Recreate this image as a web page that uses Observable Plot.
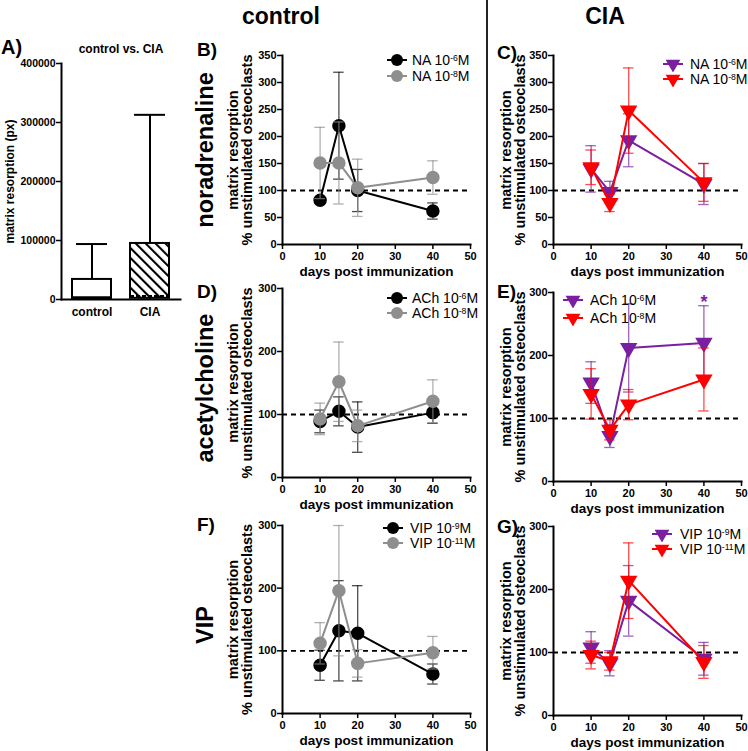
<!DOCTYPE html>
<html><head><meta charset="utf-8">
<script src="https://cdn.jsdelivr.net/npm/d3@7"></script>
<script src="https://cdn.jsdelivr.net/npm/@observablehq/plot@0.6"></script>
<style>
body{margin:0;background:#fff;}
#root{position:relative;width:748px;height:751px;overflow:hidden;background:#fff;font-family:"Liberation Sans",Arial,Helvetica,sans-serif;color:#000;}
#root svg{position:absolute;}
.t{position:absolute;white-space:nowrap;line-height:1;}
.b{font-weight:bold;}
sup{font-size:0.62em;vertical-align:baseline;position:relative;top:-0.5em;}
</style></head><body><div id="root"></div>
<script>
// ---------- data ----------
const days = [10, 15, 20, 40];
const xTicks = [0, 10, 20, 30, 40, 50];
const yTicks350 = [0, 50, 100, 150, 200, 250, 300, 350];
const yTicks300 = [0, 100, 200, 300];

// Panel A (box & whiskers, min to max)
const groupsA = ["control", "CIA"];
const minA = [0, 0];
const q1A = [1000, 2000];
const medianA = [4000, 6000];
const q3A = [34000, 95000];
const maxA = [94000, 313000];
const yTicksA = [0, 100000, 200000, 300000, 400000];

// Panel B: control, noradrenaline
const naCtrl6 = [82, 220, 100, 62];     const naCtrl6Sem = [5, 99, 39, 15];
const naCtrl8 = [151, 151, 105, 124];   const naCtrl8Sem = [66, 76, 53, 31];
// Panel C: CIA, noradrenaline
const naCia6 = [140, 97, 193, 112];     const naCia6Sem = [43, 20, 49, 38];
const naCia8 = [143, 77, 248, 115];     const naCia8Sem = [32, 16, 79, 35];
// Panel D: control, acetylcholine
const achCtrl6 = [89, 105, 80, 103];    const achCtrl6Sem = [18, 23, 40, 17];
const achCtrl8 = [93, 152, 82, 121];    const achCtrl8Sem = [25, 63, 25, 34];
// Panel E: CIA, acetylcholine
const achCia6 = [157, 72, 212, 220];    const achCia6Sem = [33, 18, 70, 59];
const achCia8 = [139, 82, 122, 162];    const achCia8Sem = [40, 16, 24, 50];
const starsE = [{day: 40, y: 292, label: "*"}];
// Panel F: control, VIP
const vipCtrl9 = [77, 132, 128, 63];    const vipCtrl9Sem = [24, 80, 76, 16];
const vipCtrl11 = [112, 196, 80, 97];   const vipCtrl11Sem = [33, 104, 22, 26];
// Panel G: CIA, VIP
const vipCia9 = [108, 83, 182, 90];     const vipCia9Sem = [25, 20, 56, 26];
const vipCia11 = [96, 86, 214, 85];     const vipCia11Sem = [22, 14, 60, 26];

// ---------- styling ----------
const FONT = '"Liberation Sans", Arial, Helvetica, sans-serif';
const BLACK = "#000000", GREY = "#8e8e8e", PURPLE = "#7a1fa2", RED = "#ff0000";
const root = document.getElementById("root");
const baseStyle = {fontFamily: FONT, color: "black", background: "transparent", overflow: "visible"};

function put(el, left, top) {
  el.style.position = "absolute";
  el.style.left = left + "px";
  el.style.top = top + "px";
  root.appendChild(el);
  return el;
}
function textDiv(html, cls, css) {
  const d = document.createElement("div");
  d.className = "t " + cls;
  d.innerHTML = html;
  Object.assign(d.style, css);
  root.appendChild(d);
  return d;
}

// ---------- panel A ----------
(function () {
  const dataA = groupsA.map((g, i) => ({g, min: minA[i], q1: q1A[i], med: medianA[i], q3: q3A[i], max: maxA[i]}));
  const ctrl = dataA.filter(d => d.g === "control");
  const cia = dataA.filter(d => d.g === "CIA");
  const svg = Plot.plot({
    width: 190, height: 300,
    marginLeft: 61, marginRight: 10, marginTop: 33, marginBottom: 31,
    style: baseStyle,
    x: {domain: groupsA, paddingInner: 0.32, paddingOuter: 0.17},
    y: {domain: [0, 400000]},
    marks: [
      Plot.ruleX(dataA, {x: "g", y1: "q3", y2: "max", stroke: BLACK, strokeWidth: 2}),
      Plot.ruleX(dataA, {x: "g", y1: "min", y2: "q1", stroke: BLACK, strokeWidth: 2}),
      Plot.tickY(dataA, {x: "g", y: "max", stroke: BLACK, strokeWidth: 2, inset: 4}),
      Plot.barY(ctrl, {x: "g", y1: "q1", y2: "q3", fill: "white", stroke: BLACK, strokeWidth: 2}),
      Plot.barY(cia, {x: "g", y1: "q1", y2: "q3", fill: "url(#hatchA)", stroke: BLACK, strokeWidth: 2}),
      Plot.tickY(ctrl, {x: "g", y: "med", stroke: BLACK, strokeWidth: 2}),
      Plot.tickY(cia, {x: "g", y: "med", stroke: BLACK, strokeWidth: 2, strokeDasharray: "4,2"}),
      Plot.frame({anchor: "left", stroke: BLACK, strokeWidth: 2}),
      Plot.frame({anchor: "bottom", stroke: BLACK, strokeWidth: 2}),
      Plot.axisY({ticks: yTicksA, tickFormat: d => String(d), tickSize: 5, tickPadding: 1, strokeWidth: 1.5,
                  fontSize: 10.5, fontWeight: "bold", label: null}),
      Plot.axisX({tickSize: 0, tickPadding: 8, fontSize: 12, fontWeight: "bold", label: null}),
      Plot.text(["control vs. CIA"], {frameAnchor: "top", dy: -14, fontSize: 12, fontWeight: "bold",
        textAnchor: "middle", lineAnchor: "middle"}),
      Plot.text(["matrix resorption (px)"], {frameAnchor: "left", rotate: -90, dx: -51, fontSize: 12, fontWeight: "bold",
        textAnchor: "middle", lineAnchor: "middle"})
    ]
  });
  const defs = d3.select(svg).insert("defs", ":first-child");
  const pat = defs.append("pattern").attr("id", "hatchA").attr("patternUnits", "userSpaceOnUse")
    .attr("width", 7).attr("height", 7).attr("patternTransform", "rotate(-45)");
  pat.append("rect").attr("width", 7).attr("height", 7).attr("fill", "white");
  pat.append("line").attr("x1", 1).attr("y1", 0).attr("x2", 1).attr("y2", 7).attr("stroke", "black").attr("stroke-width", 2.2);
  put(svg, 0, 30);
  textDiv("A)", "b", {left: "1px", top: "37px", fontSize: "20px"});
})();

// ---------- line panels ----------
function linePanel(cfg) {
  const marks = [Plot.ruleY([100], {stroke: BLACK, strokeWidth: 1.8, strokeDasharray: "5,4"})];
  cfg.series.forEach(s => {
    const data = days.map((d, i) => ({day: d, v: s.values[i], e: s.sem[i]}));
    const eb = {stroke: s.color, strokeOpacity: 0.7, strokeWidth: 1.3};
    marks.push(Plot.ruleX(data, {x: "day", y1: d => d.v - d.e, y2: d => d.v + d.e, ...eb}));
    marks.push(Plot.ruleY(data, {y: d => d.v + d.e, x1: d => d.day - 1.4, x2: d => d.day + 1.4, ...eb}));
    marks.push(Plot.ruleY(data, {y: d => d.v - d.e, x1: d => d.day - 1.4, x2: d => d.day + 1.4, ...eb}));
    marks.push(Plot.line(data, {x: "day", y: "v", stroke: s.color, strokeWidth: 2}));
    marks.push(Plot.dot(data, {x: "day", y: "v", fill: s.color, stroke: s.color,
      r: s.symbol === "circle" ? 6 : 5.5, symbol: s.symbol, rotate: s.symbol === "triangle" ? 180 : 0}));
  });
  if (cfg.stars) marks.push(Plot.text(cfg.stars, {x: "day", y: "y", text: "label", fill: cfg.starColor,
    fontSize: 18, fontWeight: "bold", dy: 5}));
  marks.push(
    Plot.frame({anchor: "left", stroke: BLACK, strokeWidth: 2}),
    Plot.frame({anchor: "bottom", stroke: BLACK, strokeWidth: 2}),
    Plot.axisY({ticks: cfg.yTicks, tickSize: 5, tickPadding: 1, strokeWidth: 1.5, fontSize: 11, fontWeight: "bold", label: null}),
    Plot.axisX({ticks: xTicks, tickSize: 5, tickPadding: 3, strokeWidth: 1.5, fontSize: 11, fontWeight: "bold", label: null}),
    Plot.text(["matrix resorption\n% unstimulated osteoclasts"], {frameAnchor: "left", rotate: -90, dx: cfg.ylabelDx,
      fontSize: 14.5, fontWeight: "bold", lineHeight: 0.98, textAnchor: "middle", lineAnchor: "middle"}),
    Plot.text(["days post immunization"], {frameAnchor: "bottom", dy: 27, fontSize: 13.5, fontWeight: "bold",
      textAnchor: "middle", lineAnchor: "middle"})
  );
  const svg = Plot.plot({
    width: cfg.width, height: cfg.height,
    marginLeft: cfg.ml, marginRight: cfg.mr, marginTop: cfg.mt, marginBottom: cfg.mb,
    style: baseStyle,
    x: {domain: [0, 50]},
    y: {domain: [0, cfg.yMax]},
    marks
  });
  put(svg, cfg.left, cfg.top);
  textDiv(cfg.letter, "b", {left: cfg.letterX + "px", top: cfg.letterY + "px", fontSize: "19px"});
  // legend
  cfg.series.forEach((s, i) => {
    const y = cfg.legendY[i];
    const sw = d3.create("svg").attr("width", 26).attr("height", 16)
      .style("left", (cfg.legendMarkerX - 13) + "px").style("top", (y - 8) + "px");
    sw.append("line").attr("x1", 3).attr("x2", 23).attr("y1", 8).attr("y2", 8).attr("stroke", s.color).attr("stroke-width", 2);
    if (s.symbol === "circle") sw.append("circle").attr("cx", 13).attr("cy", 8).attr("r", 6).attr("fill", s.color);
    else sw.append("path").attr("d", d3.symbol(d3.symbolTriangle, Math.PI * 30)()).attr("fill", s.color)
      .attr("transform", "translate(13,8) rotate(180)");
    root.appendChild(sw.node());
    textDiv(s.label, "", {left: cfg.legendTextX + "px", top: (y - 7) + "px", fontSize: "14px"});
  });
}

const ctrlCol = {left: 190, width: 290, ml: 92, mr: 10, ylabelDx: -42, letterX: 197, legendMarkerX: 397, legendTextX: 412};
const ciaCol = {left: 470, width: 278, ml: 83, mr: 7, ylabelDx: -40, letterX: 497};

linePanel({...ctrlCol, top: 40, height: 245, mt: 15, mb: 41, yMax: 350, yTicks: yTicks350, letter: "B)", letterY: 40,
  legendY: [60, 76],
  series: [
    {values: naCtrl6, sem: naCtrl6Sem, color: BLACK, symbol: "circle", label: "NA 10<sup>-6</sup>M"},
    {values: naCtrl8, sem: naCtrl8Sem, color: GREY, symbol: "circle", label: "NA 10<sup>-8</sup>M"}
  ]});
linePanel({...ciaCol, top: 40, height: 245, mt: 15, mb: 41, yMax: 350, yTicks: yTicks350, letter: "C)", letterY: 43,
  legendMarkerX: 673, legendTextX: 690, legendY: [64, 79],
  series: [
    {values: naCia6, sem: naCia6Sem, color: PURPLE, symbol: "triangle", label: "NA 10<sup>-6</sup>M"},
    {values: naCia8, sem: naCia8Sem, color: RED, symbol: "triangle", label: "NA 10<sup>-8</sup>M"}
  ]});
linePanel({...ctrlCol, top: 270, height: 245, mt: 18, mb: 38, yMax: 300, yTicks: yTicks300, letter: "D)", letterY: 282,
  legendY: [298, 313],
  series: [
    {values: achCtrl6, sem: achCtrl6Sem, color: BLACK, symbol: "circle", label: "ACh 10<sup>-6</sup>M"},
    {values: achCtrl8, sem: achCtrl8Sem, color: GREY, symbol: "circle", label: "ACh 10<sup>-8</sup>M"}
  ]});
linePanel({...ciaCol, top: 270, height: 245, mt: 22, mb: 34, yMax: 300, yTicks: yTicks300, letter: "E)", letterY: 282,
  legendMarkerX: 573, legendTextX: 590, legendY: [300, 318], stars: starsE, starColor: PURPLE,
  series: [
    {values: achCia6, sem: achCia6Sem, color: PURPLE, symbol: "triangle", label: "ACh 10<sup>-6</sup>M"},
    {values: achCia8, sem: achCia8Sem, color: RED, symbol: "triangle", label: "ACh 10<sup>-8</sup>M"}
  ]});
linePanel({...ctrlCol, top: 505, height: 246, mt: 20, mb: 38, yMax: 300, yTicks: yTicks300, letter: "F)", letterY: 515,
  legendMarkerX: 393, legendTextX: 410, legendY: [528, 543],
  series: [
    {values: vipCtrl9, sem: vipCtrl9Sem, color: BLACK, symbol: "circle", label: "VIP 10<sup>-9</sup>M"},
    {values: vipCtrl11, sem: vipCtrl11Sem, color: GREY, symbol: "circle", label: "VIP 10<sup>-11</sup>M"}
  ]});
linePanel({...ciaCol, top: 505, height: 246, mt: 21, mb: 36, yMax: 300, yTicks: yTicks300, letter: "G)", letterY: 517,
  legendMarkerX: 662, legendTextX: 680, legendY: [534, 549],
  series: [
    {values: vipCia9, sem: vipCia9Sem, color: PURPLE, symbol: "triangle", label: "VIP 10<sup>-9</sup>M"},
    {values: vipCia11, sem: vipCia11Sem, color: RED, symbol: "triangle", label: "VIP 10<sup>-11</sup>M"}
  ]});

// ---------- headers, row labels, divider ----------
function centered(text, cx, cy, size, rotate) {
  textDiv(text, "b", {left: cx + "px", top: cy + "px", fontSize: size + "px",
    transform: "translate(-50%,-50%)" + (rotate ? " rotate(-90deg)" : "")});
}
centered("control", 281, 16, 23, false);
centered("CIA", 605, 16, 23, false);
centered("noradrenaline", 206, 150, 23.5, true);
centered("acetylcholine", 206, 388, 23.5, true);
centered("VIP", 206, 625, 23.5, true);
const divider = document.createElement("div");
Object.assign(divider.style, {position: "absolute", left: "486px", top: "0px", width: "2px", height: "751px", background: "#222"});
root.appendChild(divider);
</script>
</body></html>
